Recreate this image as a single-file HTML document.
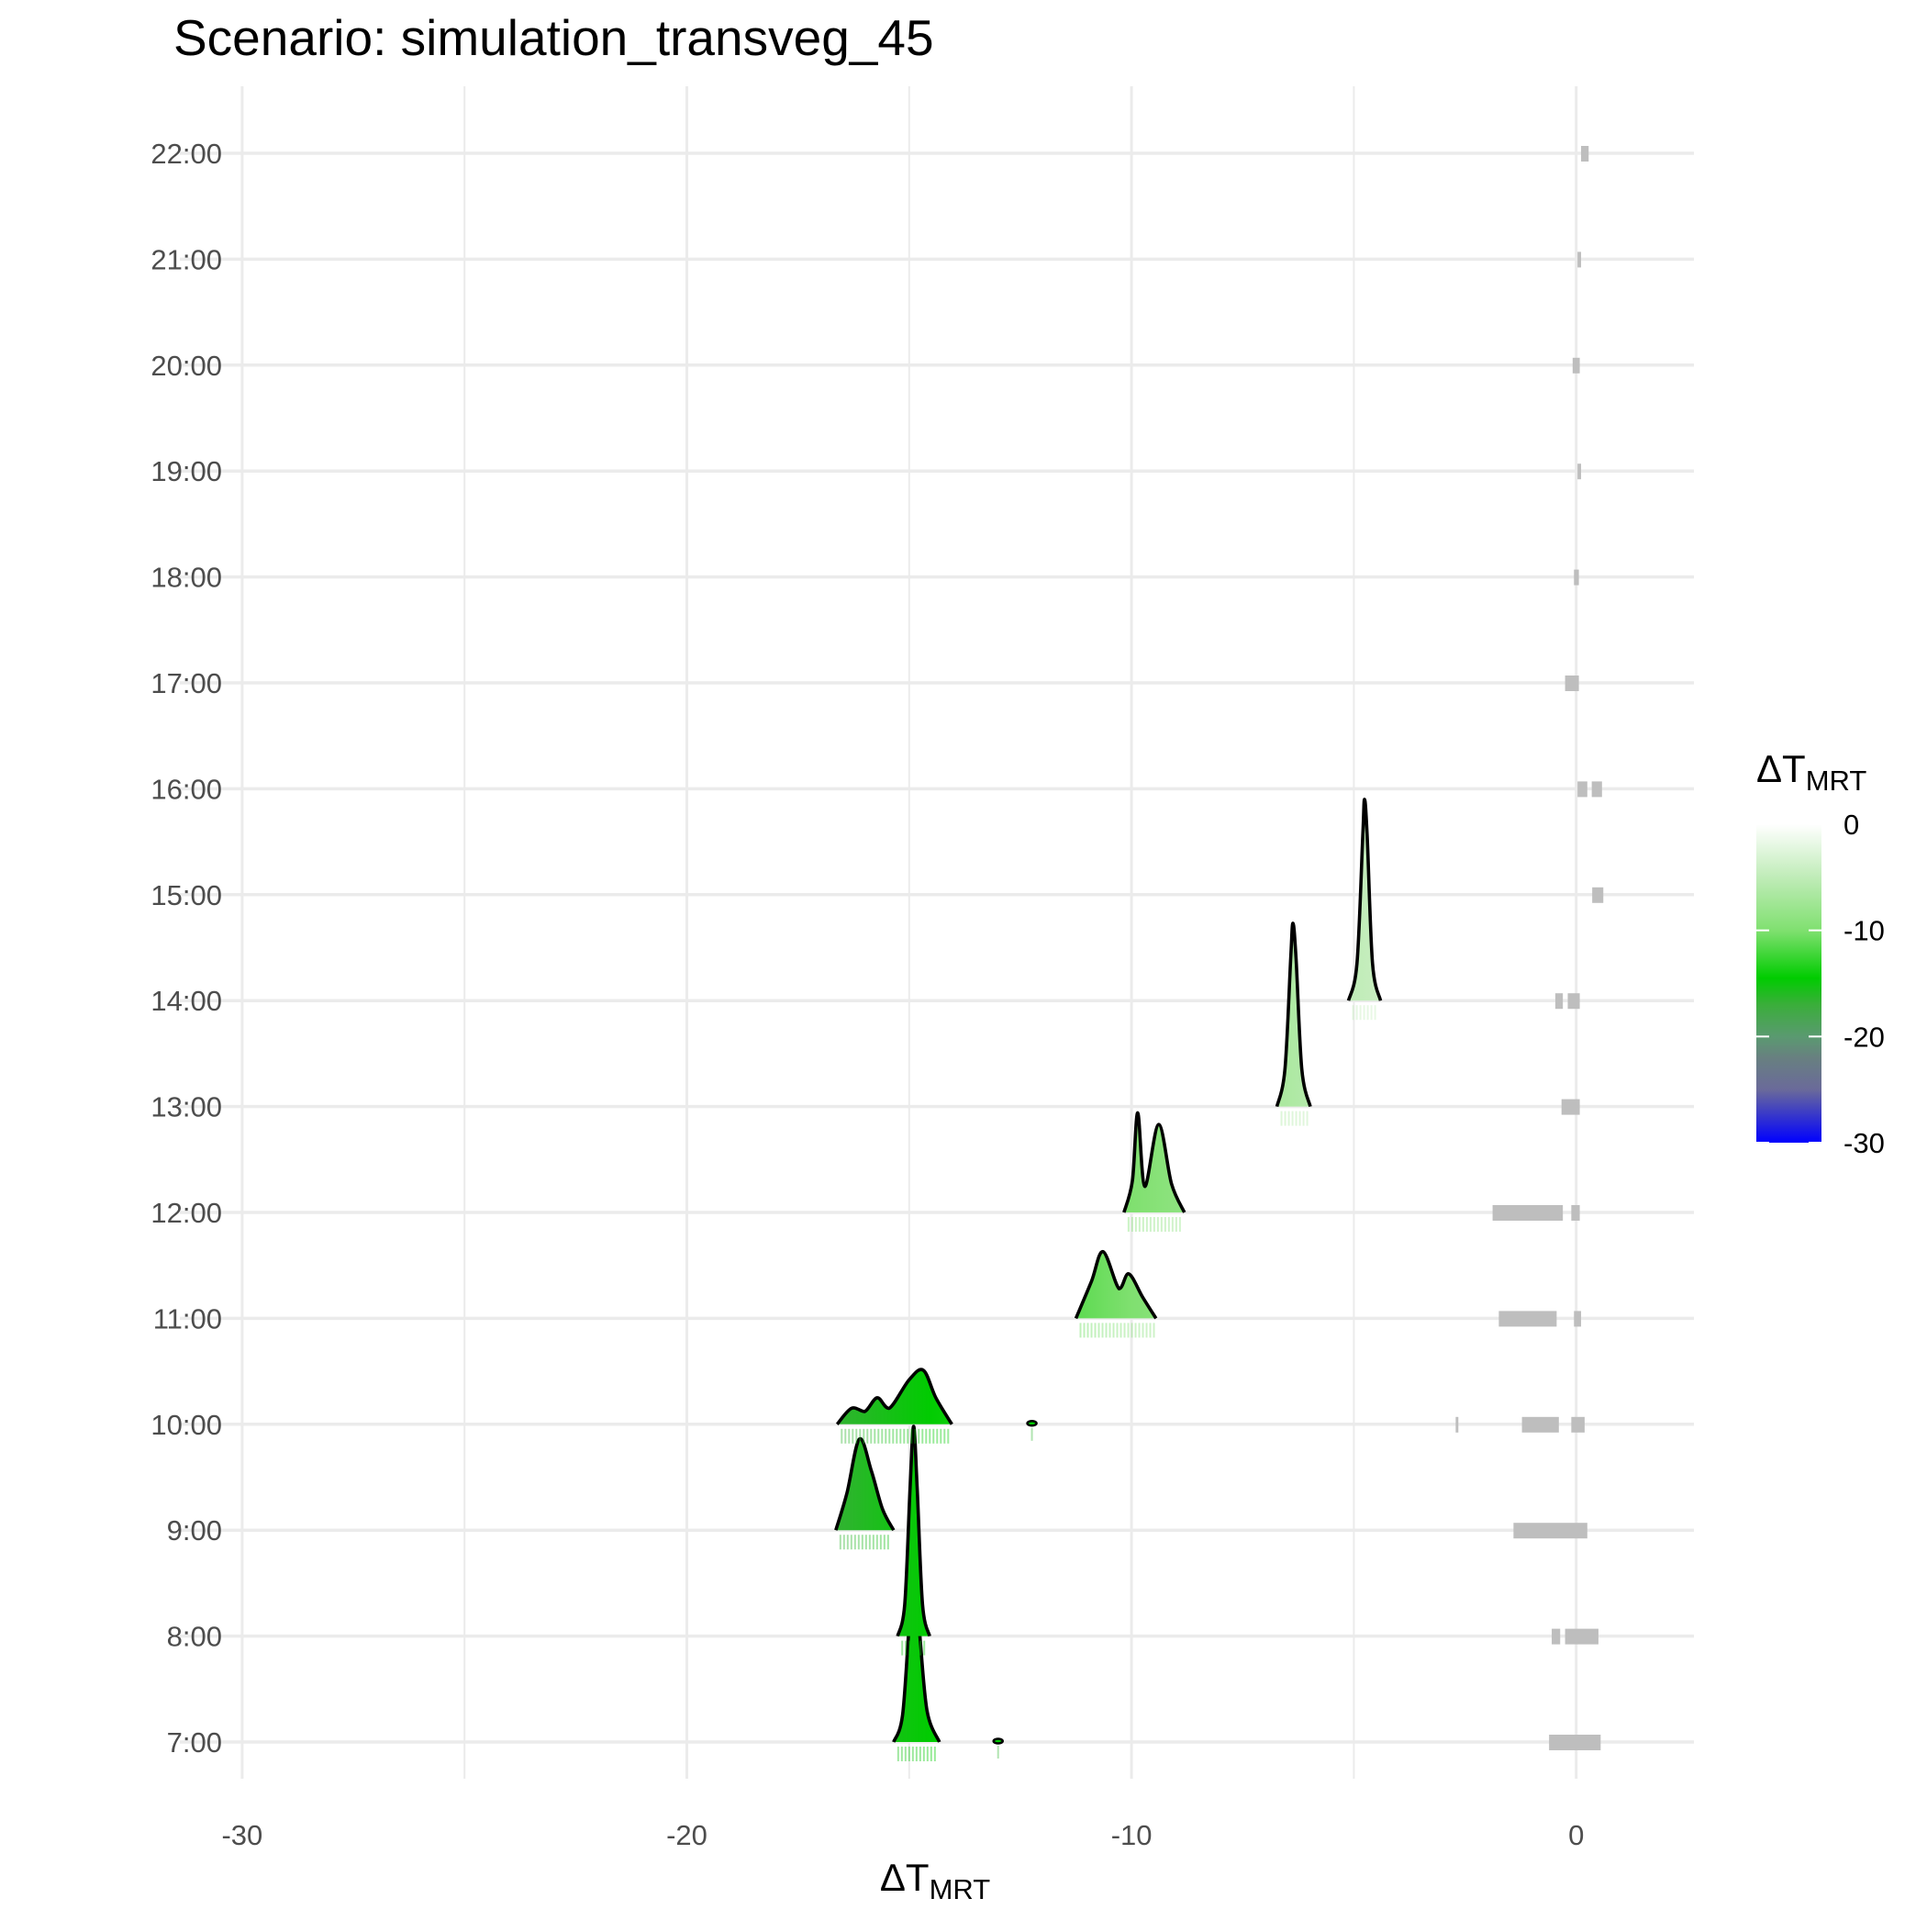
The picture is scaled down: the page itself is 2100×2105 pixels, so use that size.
<!DOCTYPE html>
<html><head><meta charset="utf-8">
<style>
html,body{margin:0;padding:0;background:#fff;}
svg text{font-family:"Liberation Sans",Arial,sans-serif;}
</style></head>
<body>
<svg id="chart" width="2100" height="2100" viewBox="0 0 2100 2100" xmlns="http://www.w3.org/2000/svg">
<defs>
<linearGradient id="legendGrad" x1="0" y1="0" x2="0" y2="1"></linearGradient>
</defs>
<text x="189" y="60" font-size="55" fill="#000">Scenario: simulation_transveg_45</text>
<g id="grid"></g>
<g id="marks"></g>
<g id="axes"></g>
<g>
<text x="1914" y="852" font-size="42">ΔT<tspan font-size="31" dy="9">MRT</tspan></text>
<rect x="1914" y="889" width="71" height="356" fill="url(#legendGrad)"/>
<g id="legendTicks"></g>
</g>
<text x="1019" y="2060" font-size="42" text-anchor="middle">ΔT<tspan font-size="31" dy="9">MRT</tspan></text>
</svg>
<script>
// ---- data ----
const hours = [7,8,9,10,11,12,13,14,15,16,17,18,19,20,21,22];
const hourLabels = ["7:00","8:00","9:00","10:00","11:00","12:00","13:00","14:00","15:00","16:00","17:00","18:00","19:00","20:00","21:00","22:00"];
const xTicks = [-30,-20,-10,0];
const xMinor = [-25,-15,-5];
const legendTicks = [0,-10,-20,-30];
const ridgeHours = [7,8,9,10,11,12,13,14];
const ridgeX = [
 [-15.35,-15.15,-15.0,-14.9,-14.78,-14.6,-14.32],
 [-15.26,-15.1,-14.98,-14.9,-14.82,-14.7,-14.54],
 [-16.65,-16.4,-16.12,-15.85,-15.6,-15.35],
 [-16.62,-16.3,-16.0,-15.72,-15.45,-15.0,-14.68,-14.4,-14.04],
 [-11.25,-10.9,-10.64,-10.28,-10.06,-9.75,-9.45],
 [-10.17,-9.98,-9.86,-9.7,-9.39,-9.1,-8.81],
 [-6.73,-6.55,-6.42,-6.37,-6.3,-6.17,-5.98],
 [-5.12,-4.93,-4.8,-4.76,-4.7,-4.58,-4.40]
];
const ridgeH = [
 [0,0.25,1.1,1.51,1.1,0.3,0],
 [0,0.3,1.4,1.98,1.4,0.3,0],
 [0,0.35,0.86,0.56,0.2,0],
 [0,0.15,0.12,0.25,0.15,0.42,0.51,0.25,0],
 [0,0.35,0.63,0.28,0.42,0.2,0],
 [0,0.3,0.94,0.245,0.83,0.27,0],
 [0,0.35,1.4,1.73,1.4,0.35,0],
 [0,0.35,1.55,1.90,1.55,0.35,0]
];
const blobHours = [7,10];
const blobX = [-13.0,-12.24];
const grayHours = [22,21,20,19,18,17,16,16,15,14,14,13,12,12,11,11,10,10,10,9,8,8,7];
const grayStart = [0.11,0.03,-0.08,0.03,-0.05,-0.25,0.03,0.35,0.36,-0.47,-0.19,-0.33,-1.88,-0.11,-1.74,-0.05,-2.71,-1.22,-0.11,-1.41,-0.55,-0.25,-0.61];
const grayEnd = [0.28,0.11,0.08,0.11,0.06,0.06,0.25,0.58,0.61,-0.30,0.08,0.08,-0.30,0.08,-0.44,0.11,-2.65,-0.39,0.19,0.25,-0.36,0.50,0.55];

// ---- scales ----
const NS="http://www.w3.org/2000/svg";
function sx(v){return 1717.7+v*48.46;}
function sy(h){return 1898-(h-7)*115.4;}
const HPX=115.4;
const stops=[[0,[255,255,255]],[-5,[192,236,184]],[-10,[128,224,112]],[-14.5,[0,204,0]],[-17,[58,174,58]],[-20,[90,154,112]],[-22,[104,128,128]],[-25,[106,106,154]],[-30,[0,0,255]]];
function col(v){
 for(let i=0;i<stops.length-1;i++){const a=stops[i],b=stops[i+1];
  if(v<=a[0]&&v>=b[0]){const t=(a[0]-v)/(a[0]-b[0]);
   const c=a[1].map((q,k)=>Math.round(q+(b[1][k]-q)*t));return `rgb(${c})`;}}
 return v>0?"#fff":"#00f";
}
function el(t,a,p){const e=document.createElementNS(NS,t);for(const k in a)e.setAttribute(k,a[k]);p.appendChild(e);return e;}
const grid=document.getElementById('grid'),marks=document.getElementById('marks'),axes=document.getElementById('axes');
const defs=document.querySelector('defs');
const pTop=94,pBot=1938,pLeft=196,pRight=1846;

const lg=document.getElementById('legendGrad');
const lgTop=889,lgH=356,lgZero=898,lgPer=(1245-898)/30;
el('stop',{offset:0,'stop-color':'#ffffff'},lg);
stops.forEach(s=>{el('stop',{offset:((lgZero-s[0]*lgPer)-lgTop)/lgH,'stop-color':`rgb(${s[1]})`},lg);});

// grid
xMinor.forEach(v=>{const l=el('line',{x1:sx(v),x2:sx(v),y1:pTop,y2:pBot,stroke:'#ebebeb','stroke-width':2},grid);

});
xTicks.forEach(v=>{const l=el('line',{x1:sx(v),x2:sx(v),y1:pTop,y2:pBot,stroke:'#ebebeb','stroke-width':3},grid);


const t=el('text',{x:sx(v),y:2010,'font-size':31,fill:'#4d4d4d','text-anchor':'middle'},axes);t.textContent=v;

});
hours.forEach((h,i)=>{const l=el('line',{x1:pLeft,x2:pRight,y1:sy(h),y2:sy(h),stroke:'#ebebeb','stroke-width':3.5},grid);


const t=el('text',{x:242,y:sy(h)+11,'font-size':31,fill:'#4d4d4d','text-anchor':'end'},axes);t.textContent=hourLabels[i];

});

// gray marks
grayHours.forEach((h,i)=>{const x1=sx(grayStart[i]),x2=sx(grayEnd[i]);
const r=el('rect',{x:x1,y:sy(h)-8,width:Math.max(2,x2-x1),height:17,fill:'#bebebe'},marks);

});

function spline(pts){let d=`M${pts[0][0]},${pts[0][1]}`;
 for(let i=0;i<pts.length-1;i++){const p0=pts[i-1]||pts[i],p1=pts[i],p2=pts[i+1],p3=pts[i+2]||p2;
  const c1=[p1[0]+(p2[0]-p0[0])/6,Math.min(p1[1]+(p2[1]-p0[1])/6,Math.max(p1[1],p2[1]))];
  const c2=[p2[0]-(p3[0]-p1[0])/6,Math.min(p2[1]-(p3[1]-p1[1])/6,Math.max(p1[1],p2[1]))];
  d+=` C${c1[0]},${c1[1]} ${c2[0]},${c2[1]} ${p2[0]},${p2[1]}`;}
 return d;}

ridgeHours.forEach((h,i)=>{
 const xs=ridgeX[i],hs=ridgeH[i],base=sy(h);
 const gid='g'+i;const g=el('linearGradient',{id:gid,gradientUnits:'userSpaceOnUse',x1:sx(xs[0]),x2:sx(xs[xs.length-1]),y1:0,y2:0},defs);
 for(let k=0;k<=10;k++){const v=xs[0]+(xs[xs.length-1]-xs[0])*k/10;el('stop',{offset:k/10,'stop-color':col(v)},g);}
 for(let x=sx(xs[0])+4;x<sx(xs[xs.length-1])-3;x+=4){
  const v=(x-1717.7)/48.46;
  const r=el('rect',{x:x,y:base+5,width:2,height:16,fill:col(v),opacity:0.4},marks);
  
  }
 const pts=xs.map((x,k)=>[sx(x),base-hs[k]*HPX]);
 const d=spline(pts);
 const f=el('path',{d:d+` L${pts[pts.length-1][0]},${base} L${pts[0][0]},${base} Z`,fill:`url(#${gid})`},marks);
 
 
 const s=el('path',{d:d,fill:'none',stroke:'#000','stroke-width':3.6,'stroke-linejoin':'round'},marks);
 
 
});
blobHours.forEach((h,i)=>{
 const b=el('ellipse',{cx:sx(blobX[i]),cy:sy(h)-1,rx:5,ry:2.5,fill:'#00cc00',stroke:'#000','stroke-width':2.5},marks);
 
 
 const r=el('rect',{x:sx(blobX[i])-1,y:sy(h)+4,width:2,height:14,fill:'#66cc66',opacity:0.5},marks);
 
 
});

const lt=document.getElementById('legendTicks');
legendTicks.forEach(v=>{const y=lgZero-v*lgPer;
 const a=el('line',{x1:1914,x2:1928,y1:y,y2:y,stroke:'#fff','stroke-width':2},lt);
 
 
 const b=el('line',{x1:1971,x2:1985,y1:y,y2:y,stroke:'#fff','stroke-width':2},lt);
 
 
 const t=el('text',{x:2009,y:y+11,'font-size':31,fill:'#000'},lt);t.textContent=v;
 
 });
</script>
</body></html>
